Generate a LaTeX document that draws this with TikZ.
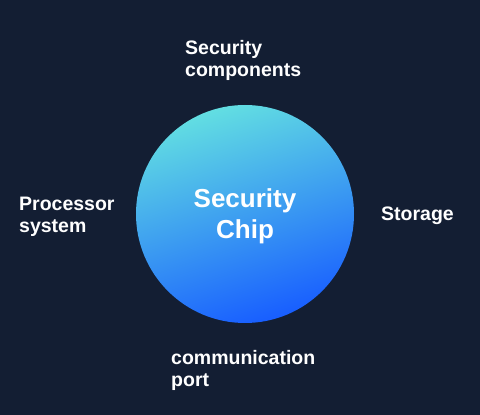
\documentclass[tikz,border=0pt]{standalone}
\usepackage{fontspec}
\setmainfont{Liberation Sans}
\usepackage{tikz}
\usetikzlibrary{positioning}
\usepackage{xcolor}
\definecolor{bgnavy}{RGB}{19,30,51}
\definecolor{chiptop}{RGB}{98,222,226}
\definecolor{chipmid}{RGB}{62,165,242}
\definecolor{chipbot}{RGB}{24,94,255}

\begin{document}
\begin{tikzpicture}[x=1pt, y=1pt,
    part/.style={anchor=base west, inner sep=0pt, align=left, text=white,
        font=\fontsize{19.5}{22.5}\selectfont\bfseries},
    chiptext/.style={inner sep=0pt, align=center, text=white,
        font=\fontsize{26}{31}\selectfont\bfseries}]
    \fill[bgnavy] (0,0) rectangle (480,415);
    \useasboundingbox (0,0) rectangle (480,415);

    \shade[top color=chiptop, middle color=chipmid, bottom color=chipbot, shading angle=18]
        (245,201) circle (109);
    \node[chiptext] (chip) at (245,199) {Security\\Chip};

    \node[part] (comp) at (185,338) {Security\\components};
    \node[part] (proc) at (19,182) {Processor\\system};
    \node[part] (stor) at (381,194) {Storage};
    \node[part] (port) at (171,28) {communication\\port};
\end{tikzpicture}
\end{document}
